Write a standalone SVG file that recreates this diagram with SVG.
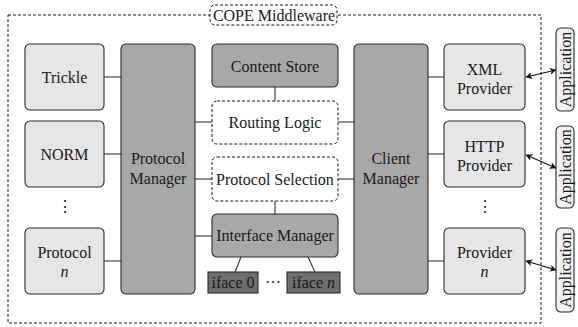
<svg xmlns="http://www.w3.org/2000/svg" width="578" height="327" viewBox="0 0 578 327">
  <style>
    text { font-family: "Liberation Serif", "DejaVu Serif", "Times New Roman", serif; font-size: 16px; fill: #1a1a1a; text-anchor: middle; }
    .light { fill: #e6e6e6; stroke: #2a2a2a; stroke-width: 1.1; }
    .dark { fill: #a8a8a8; stroke: #2a2a2a; stroke-width: 1.1; }
    .iface { fill: #6e6e6e; stroke: #2a2a2a; stroke-width: 1.1; }
    .dashed { fill: #ffffff; stroke: #1a1a1a; stroke-width: 1; stroke-dasharray: 3 2; }
    .app { fill: #f2f2f2; stroke: #2a2a2a; stroke-width: 1.1; }
    .link { stroke: #333333; stroke-width: 1.1; fill: none; }
    .arrow { stroke: #111111; stroke-width: 1.1; fill: none; marker-start: url(#head); marker-end: url(#head); }
    .it { font-style: italic; }
  </style>
  <defs>
    <marker id="head" viewBox="0 0 10 10" refX="9" refY="5" markerWidth="7" markerHeight="7" markerUnits="userSpaceOnUse" orient="auto-start-reverse">
      <path d="M0,0 L10,5 L0,10 L3,5 Z" fill="#111111"/>
    </marker>
  </defs>

  <!-- middleware boundary -->
  <g id="middleware">
    <rect x="8" y="15" width="533" height="308" fill="none" stroke="#1a1a1a" stroke-width="1" stroke-dasharray="3 2"/>
    <rect class="dashed" x="210" y="5" width="127" height="20" rx="5"/>
    <text x="274" y="20.5">COPE Middleware</text>
  </g>

  <!-- connectors -->
  <g id="connectors">
    <line class="link" x1="104" y1="77" x2="121" y2="77"/>
    <line class="link" x1="104" y1="154" x2="121" y2="154"/>
    <line class="link" x1="104" y1="261" x2="121" y2="261"/>
    <line class="link" x1="195" y1="122" x2="212" y2="122"/>
    <line class="link" x1="195" y1="179" x2="212" y2="179"/>
    <line class="link" x1="195" y1="236" x2="212" y2="236"/>
    <line class="link" x1="338" y1="122" x2="354" y2="122"/>
    <line class="link" x1="338" y1="179" x2="354" y2="179"/>
    <line class="link" x1="428" y1="77" x2="444" y2="77"/>
    <line class="link" x1="428" y1="154" x2="444" y2="154"/>
    <line class="link" x1="428" y1="261" x2="444" y2="261"/>
    <line class="link" x1="275" y1="87" x2="275" y2="101"/>
    <line class="link" x1="275" y1="201" x2="275" y2="214"/>
    <line class="link" x1="241" y1="257" x2="235" y2="272"/>
    <line class="link" x1="308" y1="257" x2="315" y2="272"/>
    <line class="arrow" x1="526" y1="77" x2="556" y2="70"/>
    <line class="arrow" x1="526" y1="155" x2="556" y2="168"/>
    <line class="arrow" x1="526" y1="261" x2="556" y2="270"/>
  </g>

  <!-- protocols -->
  <g id="trickle">
    <rect class="light" x="25" y="44" width="79" height="66" rx="5"/>
    <text x="64.5" y="82.5">Trickle</text>
  </g>
  <g id="norm">
    <rect class="light" x="25" y="121" width="79" height="66" rx="5"/>
    <text x="64.5" y="159.5">NORM</text>
  </g>
  <g id="protocol-dots">
    <text x="64.5" y="212">⋮</text>
  </g>
  <g id="protocol-n">
    <rect class="light" x="25" y="228" width="79" height="66" rx="5"/>
    <text x="64.5" y="257.5">Protocol</text>
    <text class="it" x="64.5" y="276.5">n</text>
  </g>

  <g id="protocol-manager">
    <rect class="dark" x="121" y="44" width="74" height="250" rx="5"/>
    <text x="158" y="163.5">Protocol</text>
    <text x="158" y="183.5">Manager</text>
  </g>

  <!-- core -->
  <g id="content-store">
    <rect class="dark" x="212" y="44" width="126" height="43" rx="5"/>
    <text x="275" y="71.5">Content Store</text>
  </g>
  <g id="routing-logic">
    <rect class="dashed" x="212" y="101" width="126" height="43" rx="5"/>
    <text x="275" y="127.5">Routing Logic</text>
  </g>
  <g id="protocol-selection">
    <rect class="dashed" x="212" y="157" width="126" height="44" rx="5"/>
    <text x="275" y="184.5">Protocol Selection</text>
  </g>
  <g id="interface-manager">
    <rect class="dark" x="212" y="214" width="126" height="43" rx="5"/>
    <text x="275" y="241">Interface Manager</text>
  </g>
  <g id="iface-0">
    <rect class="iface" x="208" y="272" width="50" height="21"/>
    <text x="233" y="288">iface 0</text>
  </g>
  <g id="iface-dots">
    <text x="273" y="288">···</text>
  </g>
  <g id="iface-n">
    <rect class="iface" x="287" y="272" width="53" height="21"/>
    <text x="313.5" y="288">iface <tspan class="it">n</tspan></text>
  </g>

  <g id="client-manager">
    <rect class="dark" x="354" y="44" width="74" height="250" rx="5"/>
    <text x="391" y="163.5">Client</text>
    <text x="391" y="183.5">Manager</text>
  </g>

  <!-- providers -->
  <g id="xml-provider">
    <rect class="light" x="444" y="44" width="81" height="66" rx="5"/>
    <text x="484.5" y="74.5">XML</text>
    <text x="484.5" y="93.5">Provider</text>
  </g>
  <g id="http-provider">
    <rect class="light" x="444" y="121" width="81" height="66" rx="5"/>
    <text x="484.5" y="151.5">HTTP</text>
    <text x="484.5" y="170.5">Provider</text>
  </g>
  <g id="provider-dots">
    <text x="484.5" y="212">⋮</text>
  </g>
  <g id="provider-n">
    <rect class="light" x="444" y="228" width="81" height="66" rx="5"/>
    <text x="484.5" y="257.5">Provider</text>
    <text class="it" x="484.5" y="276.5">n</text>
  </g>

  <!-- applications -->
  <g id="application-1">
    <rect class="app" x="556" y="28" width="18" height="83" rx="5"/>
    <text transform="translate(570.5 69.5) rotate(-90)">Application</text>
  </g>
  <g id="application-2">
    <rect class="app" x="556" y="126" width="18" height="82" rx="5"/>
    <text transform="translate(570.5 167) rotate(-90)">Application</text>
  </g>
  <g id="application-3">
    <rect class="app" x="556" y="228" width="18" height="84" rx="5"/>
    <text transform="translate(570.5 270) rotate(-90)">Application</text>
  </g>
</svg>
